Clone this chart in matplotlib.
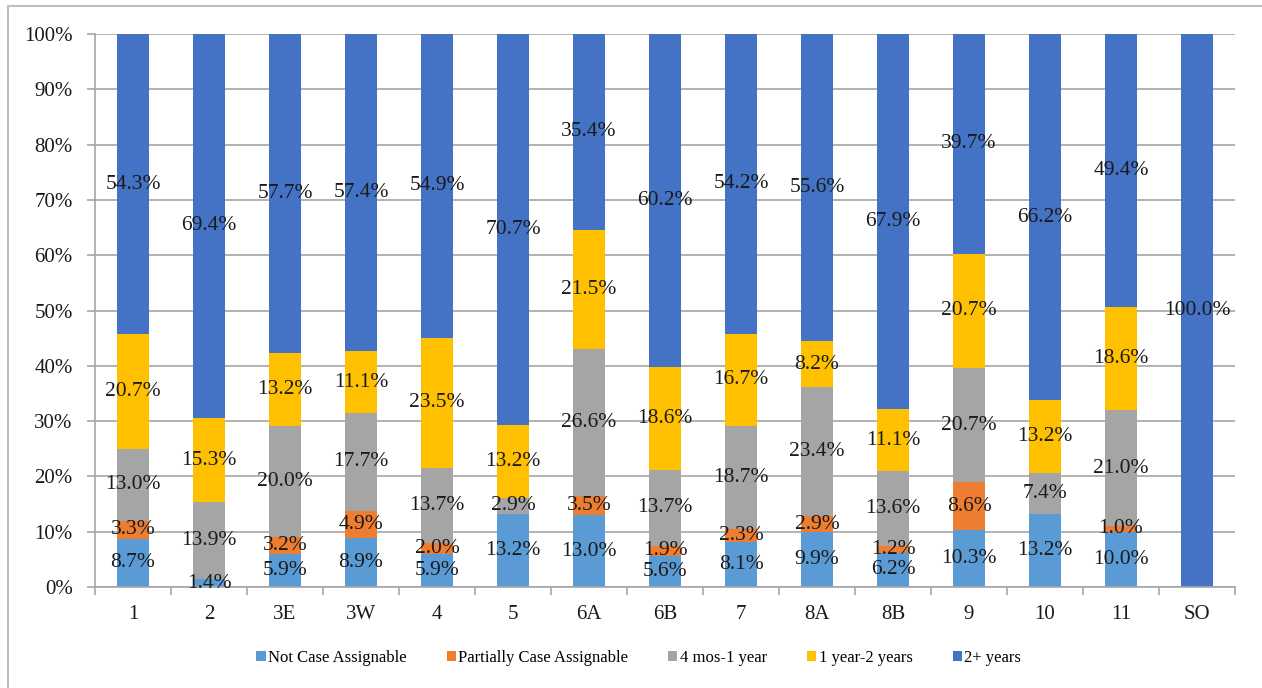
import numpy as np
import matplotlib.pyplot as plt
from matplotlib.patches import Rectangle
from matplotlib.ticker import PercentFormatter

# district labels along the x axis
districts = ['1', '2', '3E', '3W', '4', '5', '6A', '6B', '7', '8A', '8B', '9', '10', '11', 'SO']

# share of cases (%) by age group, per district
not_assignable = [8.7, 1.4, 5.9, 8.9, 5.9, 13.2, 13.0, 5.6, 8.1, 9.9, 6.2, 10.3, 13.2, 10.0, 0.0]
partially_assignable = [3.3, 0.0, 3.2, 4.9, 2.0, 0.0, 3.5, 1.9, 2.3, 2.9, 1.2, 8.6, 0.0, 1.0, 0.0]
mos4_to_1yr = [13.0, 13.9, 20.0, 17.7, 13.7, 2.9, 26.6, 13.7, 18.7, 23.4, 13.6, 20.7, 7.4, 21.0, 0.0]
yr1_to_2yr = [20.7, 15.3, 13.2, 11.1, 23.5, 13.2, 21.5, 18.6, 16.7, 8.2, 11.1, 20.7, 13.2, 18.6, 0.0]
yr2_plus = [54.3, 69.4, 57.7, 57.4, 54.9, 70.7, 35.4, 60.2, 54.2, 55.6, 67.9, 39.7, 66.2, 49.4, 100.0]

series = [
    ('Not Case Assignable', not_assignable, '#5B9BD5'),
    ('Partially Case Assignable', partially_assignable, '#ED7D31'),
    ('4 mos-1 year', mos4_to_1yr, '#A5A5A5'),
    ('1 year-2 years', yr1_to_2yr, '#FFC000'),
    ('2+ years', yr2_plus, '#4472C4'),
]

serif = 'Liberation Serif'

fig = plt.figure(figsize=(12.62, 6.88), dpi=100)
ax = fig.add_axes([95 / 1262, 1 - 587 / 688, (1235 - 95) / 1262, (587 - 34) / 688])

# chart-area frame (top and left edges)
fig.patches.append(Rectangle((8 / 1262, -0.05), 1.2, 1 - 6 / 688 + 0.05,
                             transform=fig.transFigure, fill=False,
                             edgecolor='#BFBFBF', linewidth=1.5))

x = np.arange(len(districts))
bottom = np.zeros(len(districts))
for name, vals, color in series:
    vals = np.array(vals)
    ax.bar(x, vals, 0.41, bottom=bottom, color=color, label=name, zorder=2)
    for xi, b, v in zip(x, bottom, vals):
        if v > 0:
            ax.text(xi, b + v / 2, f'{v:.1f}%', ha='center', va='center',
                    fontsize=15.5, family=serif, color='#1a1a1a', zorder=3)
    bottom += vals

ax.set_xlim(-0.5, len(districts) - 0.5)
ax.set_ylim(0, 100)
ax.set_yticks(np.arange(0, 101, 10))
ax.yaxis.set_major_formatter(PercentFormatter(decimals=0))
ax.grid(axis='y', color='#A6A6A6', linewidth=1.2, zorder=0)

ax.set_xticks(x)
ax.set_xticklabels(districts)
ax.set_xticks(np.arange(-0.5, len(districts)), minor=True)
ax.tick_params(axis='x', which='major', length=0, pad=13, labelsize=15)
ax.tick_params(axis='x', which='minor', length=6, color='#A6A6A6', width=1.2)
ax.tick_params(axis='y', length=6, color='#A6A6A6', width=1.2, labelsize=15, pad=10)
for lbl in ax.get_xticklabels() + ax.get_yticklabels():
    lbl.set_family(serif)
    lbl.set_color('#1a1a1a')

for side in ['top', 'right']:
    ax.spines[side].set_visible(False)
for side in ['left', 'bottom']:
    ax.spines[side].set_color('#A6A6A6')
    ax.spines[side].set_linewidth(1.2)

ax.legend(loc='center', bbox_to_anchor=(0.477, -0.128), ncol=5, frameon=False,
          prop={'family': serif, 'size': 12}, handlelength=0.55, handleheight=0.55,
          handletextpad=0.15, columnspacing=2.4)

fig.savefig('out.png', dpi=100)
